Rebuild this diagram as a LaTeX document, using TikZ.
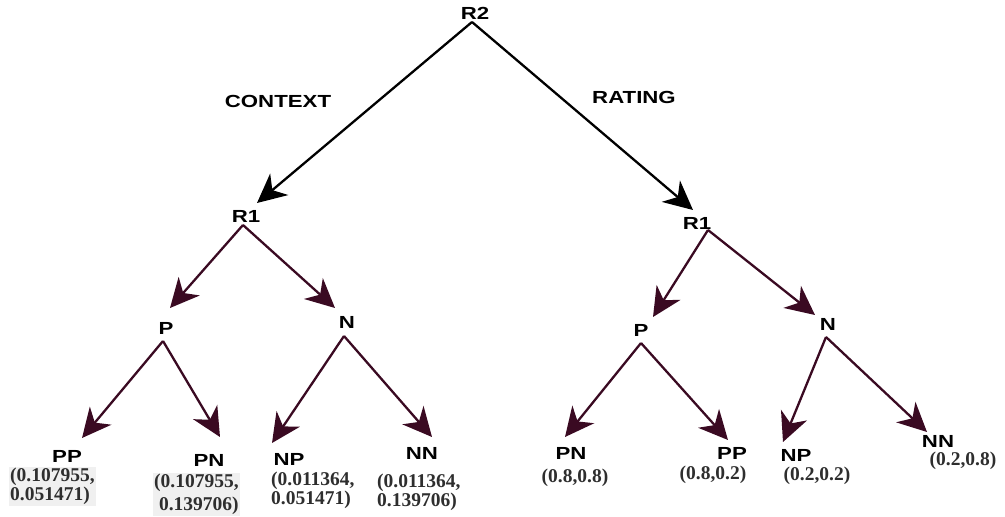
\documentclass[tikz,border=0pt]{standalone}
\usepackage{fontspec}
\usetikzlibrary{arrows.meta}
\newfontfamily\lblfont[FakeStretch=1.27]{Liberation Sans}
\newfontfamily\valfont{Liberation Serif}
\definecolor{branch}{HTML}{3A0A22}
\definecolor{valgray}{HTML}{2E2E2E}
\begin{document}
\begin{tikzpicture}[x=1pt,y=-1pt,
  lbl/.style={inner sep=0pt,font=\lblfont\bfseries\fontsize{17.5}{18}\selectfont},
  val/.style={inner sep=0pt,align=left,text=valgray,
    font=\valfont\bfseries\fontsize{19.5}{17}\selectfont},
  valbg/.style={val,inner sep=1pt,fill=black!6},
  head/.style={-{Stealth[length=29pt,width=28pt,inset=9pt]}},
  topedge/.style={draw=black,line width=2.3pt,head},
  subedge/.style={draw=branch,line width=2.3pt,head}]
\useasboundingbox (0,0) rectangle (1005,517);

% root and branch labels
\node[lbl] (R2) at (475,13) {R2};
\node[lbl] (ctx) at (278,101) {CONTEXT};
\node[lbl] (rat) at (634,97) {RATING};

% second level
\node[lbl] (R1a) at (246,216) {R1};
\node[lbl] (R1b) at (697,223) {R1};

% third level
\node[lbl] (Pa) at (166,328) {P};
\node[lbl] (Na) at (347,322) {N};
\node[lbl] (Pb) at (641,330) {P};
\node[lbl] (Nb) at (828,324) {N};

% leaves, CONTEXT side
\node[lbl] (PPa) at (67,456) {PP};
\node[lbl] (PNa) at (209,460) {PN};
\node[lbl] (NPa) at (289,459) {NP};
\node[lbl] (NNa) at (422,453) {NN};
\node[valbg,anchor=north west] (vPPa) at (9,467) {(0.107955,\\0.051471)};
\node[valbg,anchor=north west,font=\valfont\bfseries\fontsize{19.5}{23}\selectfont]
  (vPNa) at (153,473) {(0.107955,\\\ 0.139706)};
\node[val,anchor=north west] (vNPa) at (271,472) {(0.011364,\\0.051471)};
\node[val,anchor=north west,font=\valfont\bfseries\fontsize{19.5}{15.5}\selectfont]
  (vNNa) at (377,474) {(0.011364,\\0.139706)};

% leaves, RATING side
\node[lbl] (PNb) at (571,453) {PN};
\node[lbl] (PPb) at (732,453) {PP};
\node[lbl] (NPb) at (796,455) {NP};
\node[lbl] (NNb) at (938,441) {NN};
\node[val] (vPNb) at (575,478) {(0.8,0.8)};
\node[val] (vPPb) at (713,475) {(0.8,0.2)};
\node[val] (vNPb) at (817,476) {(0.2,0.2)};
\node[val] (vNNb) at (963,461) {(0.2,0.8)};

% connector end points
\coordinate (oR2) at (472,22);
\coordinate (tR1a) at (257,203);
\coordinate (tR1b) at (693,210);
\coordinate (oR1a) at (243,225);
\coordinate (oR1b) at (708,230);
\coordinate (tPa) at (170,308);
\coordinate (tNa) at (335,308);
\coordinate (tPb) at (653,317);
\coordinate (tNb) at (815,315);
\coordinate (oPa) at (163,341);
\coordinate (oNa) at (344,336);
\coordinate (oPb) at (641,343);
\coordinate (oNb) at (826,337);
\coordinate (tPPa) at (82,438);
\coordinate (tPNa) at (220,437);
\coordinate (tNPa) at (272,443);
\coordinate (tNNa) at (432,437);
\coordinate (tPNb) at (565,437);
\coordinate (tPPb) at (728,440);
\coordinate (tNPb) at (783,442);
\coordinate (tNNb) at (927,432);

% connectors
\draw[topedge] (oR2) -- (tR1a);
\draw[topedge] (oR2) -- (tR1b);
\draw[subedge] (oR1a) -- (tPa);
\draw[subedge] (oR1a) -- (tNa);
\draw[subedge] (oR1b) -- (tPb);
\draw[subedge] (oR1b) -- (tNb);
\draw[subedge] (oPa) -- (tPPa);
\draw[subedge] (oPa) -- (tPNa);
\draw[subedge] (oNa) -- (tNPa);
\draw[subedge] (oNa) -- (tNNa);
\draw[subedge] (oPb) -- (tPNb);
\draw[subedge] (oPb) -- (tPPb);
\draw[subedge] (oNb) -- (tNPb);
\draw[subedge] (oNb) -- (tNNb);
\end{tikzpicture}
\end{document}
